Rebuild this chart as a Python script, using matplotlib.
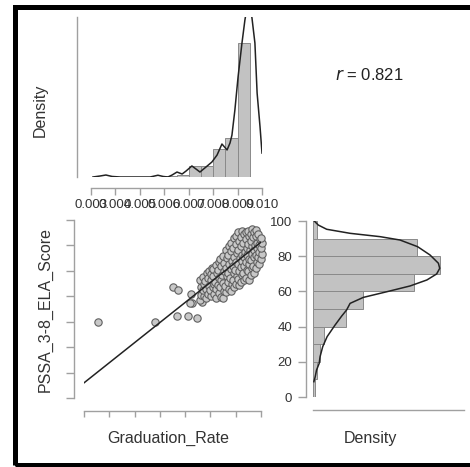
import matplotlib
matplotlib.use("Agg")
import matplotlib.pyplot as plt
from matplotlib.patches import Rectangle

plt.rcParams["font.family"] = ["Liberation Sans", "DejaVu Sans"]

W, H = 470, 467

# top panel: Graduation_Rate histogram + density
top_ticks = [0.003, 0.004, 0.005, 0.006, 0.007, 0.008, 0.009, 0.010]
top_tick_labels = ["0.003", "0.004", "0.005", "0.006", "0.007", "0.008", "0.009", "0.010"]
grad_bin_left = [0.0060, 0.0065, 0.0070, 0.0075, 0.0080, 0.0085, 0.0090]
grad_bin_density = [10, 20, 100, 100, 255, 355, 1215]
grad_bin_width = 0.0005
grad_kde_x = [0.00308, 0.00337, 0.00361, 0.00386, 0.00419, 0.00542, 0.00574, 0.00595,
              0.00615, 0.00632, 0.00652, 0.00673, 0.00689, 0.00713, 0.00730, 0.00746,
              0.00771, 0.00795, 0.00816, 0.00836, 0.00857, 0.00869, 0.00877, 0.00889,
              0.00902, 0.00918, 0.00930, 0.00945, 0.00959, 0.00971, 0.00980, 0.00992,
              0.01000]
grad_kde_y = [0, 9, 18, 5, 0, 0, 16, 5,
              0, 18, 45, 27, 54, 100, 72, 45,
              91, 136, 199, 299, 245, 308, 380, 607,
              906, 1214, 1422, 1620, 1440, 1214, 761, 453,
              217]

# scatter: Graduation_Rate vs PSSA_3-8_ELA_Score
grad_rate = [35.5, 58.1, 65.2, 67.2, 66.8, 71.1, 74.7, 72.3, 72.7, 71.9, 76.6, 76.6, 77.0,
             75.8, 76.4, 76.1, 75.9, 77.3, 76.9, 77.4, 77.1, 78.2, 78.4, 77.8, 78.6,
             79.1, 79.4, 78.9, 79.5, 80.2, 79.8, 80.4, 80.1, 80.6,
             81.3, 80.9, 81.5, 81.2, 81.0, 82.1, 82.4, 81.8, 82.5, 82.2,
             83.2, 82.9, 83.4, 83.1, 83.5, 84.3, 83.8, 84.1, 84.6, 84.2, 83.9,
             85.0, 85.4, 84.8, 85.2, 85.5, 85.1, 86.2, 85.9, 86.4, 86.1, 86.5, 86.0,
             87.3, 86.8, 87.1, 87.5, 86.9, 87.2, 88.1, 88.4, 87.9, 88.2, 88.6, 88.0, 88.3,
             89.2, 88.9, 89.4, 89.1, 89.5, 88.8, 89.3, 90.1, 90.4, 89.9, 90.3, 90.6, 90.0, 90.2,
             91.2, 90.9, 91.4, 91.1, 91.5, 90.8, 91.3, 91.0,
             92.1, 92.4, 91.9, 92.3, 92.6, 92.0, 92.2, 92.5,
             93.2, 92.9, 93.4, 93.1, 93.5, 92.8, 93.3, 94.1, 94.4, 93.9, 94.3, 94.6, 94.0, 94.2,
             95.2, 94.9, 95.4, 95.1, 95.5, 94.8, 95.3, 95.0,
             96.1, 96.4, 95.9, 96.3, 96.6, 96.0, 96.2, 96.5,
             97.2, 96.9, 97.4, 97.1, 97.5, 96.8, 97.3, 98.1, 98.4, 97.9, 98.3, 98.6, 98.0, 98.2,
             99.2, 98.9, 99.4, 99.1, 99.5, 98.8, 100.1, 100.4, 99.9, 100.3, 100.0]
ela_score = [42.6, 42.6, 62.5, 60.8, 46.0, 46.0, 44.9, 58.5, 53.4, 53.4, 54.0, 65.3, 59.7,
             55.2, 58.1, 62.3, 66.4, 57.4, 60.6, 64.1, 68.2, 56.3, 61.2, 65.5, 70.1,
             58.6, 62.8, 67.3, 71.2, 57.1, 60.4, 66.2, 69.4, 73.0,
             58.2, 62.5, 64.3, 68.6, 72.4, 56.4, 61.3, 65.2, 70.3, 74.8,
             59.1, 63.4, 67.2, 72.1, 76.3, 57.0, 62.2, 66.5, 69.3, 74.4, 78.1,
             56.2, 60.3, 64.4, 71.2, 76.1, 80.0, 59.4, 63.1, 68.3, 73.2, 78.4, 83.1,
             61.2, 65.3, 70.4, 75.2, 80.1, 85.3, 60.3, 64.1, 67.4, 72.3, 77.2, 82.4, 87.1,
             62.3, 66.2, 70.1, 74.4, 79.3, 84.2, 90.1, 64.2, 68.3, 72.1, 76.4, 81.2, 86.3, 91.0,
             63.4, 67.1, 71.3, 75.2, 78.4, 83.3, 88.2, 93.1,
             65.3, 69.2, 73.4, 77.1, 80.3, 85.2, 90.4, 94.0,
             66.1, 70.4, 74.2, 79.1, 82.2, 87.3, 92.1, 67.3, 72.1, 76.2, 80.4, 84.1, 89.2, 93.3,
             66.2, 71.3, 75.1, 78.3, 83.2, 86.4, 91.2, 94.1,
             69.2, 73.1, 77.4, 81.1, 85.2, 88.3, 92.4, 95.0,
             70.3, 74.2, 79.1, 83.3, 86.1, 90.2, 93.4, 73.1, 76.3, 80.2, 84.1, 87.3, 91.1, 94.2,
             75.2, 79.1, 82.3, 86.2, 89.1, 92.3, 78.2, 81.1, 84.3, 87.2, 90.1]
fit_intercept = -25.36
fit_slope = 1.129
r_value = 0.821

# right panel: PSSA_3-8_ELA_Score histogram + density
ela_bin_bottom = [0, 10, 20, 30, 40, 50, 60, 70, 80, 90]
ela_bin_density = [0.0004, 0.0009, 0.0016, 0.0025, 0.0075, 0.0113, 0.0229, 0.0288, 0.0236, 0.0009]
ela_kde_score = [100.2, 97.7, 95.3, 93.0, 91.1, 89.2, 85.4, 80.7, 76.0, 73.1, 69.9, 66.5,
                 63.1, 59.8, 56.6, 53.2, 49.4, 46.0, 40.9, 34.3, 28.6, 22.9, 19.1, 15.3,
                 11.5, 8.7]
ela_kde_density = [0.0002, 0.0012, 0.0031, 0.0084, 0.0152, 0.0197, 0.0237, 0.0265, 0.0284,
                   0.0287, 0.0280, 0.0258, 0.0220, 0.0167, 0.0114, 0.0084, 0.0076, 0.0065,
                   0.0050, 0.0032, 0.0022, 0.0016, 0.0014, 0.0008, 0.0005, 0.0002]
ela_ticks = [0, 20, 40, 60, 80, 100]

bar_face = "#c2c2c2"
bar_edge = "#8a8a8a"
axis_col = "#a0a0a0"
text_col = "#333333"
curve_col = "#222222"


def px_axes(fig, x0, y0, x1, y1):
    # pixel box (top-left origin) -> figure axes
    return fig.add_axes([x0 / W, (H - y1) / H, (x1 - x0) / W, (y1 - y0) / H])


def style(ax):
    for s in ["top", "right"]:
        ax.spines[s].set_visible(False)
    for s in ["left", "bottom"]:
        ax.spines[s].set_color(axis_col)
        ax.spines[s].set_linewidth(1.0)
    ax.tick_params(colors=axis_col, labelcolor=text_col, width=1.0, labelsize=9.5)
    ax.patch.set_alpha(0)


fig = plt.figure(figsize=(W / 100, H / 100), dpi=100)

# --- top histogram
ax_top = px_axes(fig, 91, 17, 262, 177)
style(ax_top)
ax_top.bar(grad_bin_left, grad_bin_density, width=grad_bin_width, align="edge",
           color=bar_face, edgecolor=bar_edge, linewidth=0.7)
ax_top.plot(grad_kde_x, grad_kde_y, color=curve_col, lw=1.1)
ax_top.set_xlim(0.003, 0.010)
ax_top.set_ylim(0, 1450)
ax_top.spines["left"].set_position(("outward", 10))
ax_top.spines["bottom"].set_position(("outward", 8))
ax_top.spines["bottom"].set_bounds(0.003, 0.010)
ax_top.set_yticks([])
ax_top.set_xticks(top_ticks)
ax_top.set_xticklabels(top_tick_labels)
ax_top.tick_params(axis="x", length=5, pad=2.5)

# --- scatter
ax_sc = px_axes(fig, 84, 220, 261, 398)
style(ax_sc)
ax_sc.scatter(grad_rate, ela_score, s=28, facecolor="#c8c8c8", edgecolor="#606060",
              linewidth=0.8, clip_on=False, zorder=3)
fit_x = [30, 100]
ax_sc.plot(fit_x, [fit_intercept + fit_slope * v for v in fit_x], color=curve_col,
           lw=1.1, zorder=4)
ax_sc.set_xlim(30, 100)
ax_sc.set_ylim(0, 100)
ax_sc.spines["left"].set_position(("outward", 7))
ax_sc.spines["bottom"].set_position(("outward", 9))
ax_sc.spines["left"].set_bounds(0, 100)
ax_sc.spines["bottom"].set_bounds(30, 100)
ax_sc.set_xticks([30 + 10 * i for i in range(8)])
ax_sc.set_yticks([100 * i / 7 for i in range(8)])
ax_sc.set_xticklabels([])
ax_sc.set_yticklabels([])
ax_sc.tick_params(axis="x", length=4.5)
ax_sc.tick_params(axis="y", length=6)

# --- right histogram (horizontal)
ax_r = px_axes(fig, 313, 221, 464, 397)
style(ax_r)
ax_r.barh(ela_bin_bottom, ela_bin_density, height=10, align="edge",
          color=bar_face, edgecolor=bar_edge, linewidth=0.7)
ax_r.plot(ela_kde_density, ela_kde_score, color=curve_col, lw=1.1)
ax_r.set_ylim(0, 100)
ax_r.set_xlim(0, 0.0342)
ax_r.spines["left"].set_position(("outward", 5))
ax_r.spines["bottom"].set_position(("outward", 9))
ax_r.set_xticks([])
ax_r.set_yticks(ela_ticks)
ax_r.tick_params(axis="y", length=6, pad=4)

# axis titles
fig.text(40 / W, 1 - 110 / H, "Density", rotation=90, ha="center", va="center",
         fontsize=11.5, color=text_col)
fig.text(45 / W, 1 - 310 / H, "PSSA_3-8_ELA_Score", rotation=90, ha="center",
         va="center", fontsize=11.5, color=text_col)
fig.text(168 / W, 1 - 438 / H, "Graduation_Rate", ha="center", va="center",
         fontsize=11.5, color=text_col)
fig.text(370 / W, 1 - 438 / H, "Density", ha="center", va="center",
         fontsize=11.5, color=text_col)
fig.text(369 / W, 1 - 75 / H, "$r$ = %.3f" % r_value, ha="center", va="center",
         fontsize=12, color="#222222")

# outer frame
fig.patches.append(Rectangle((14.5 / W, 2 / H), 470 / W, (465 - 6.5) / H,
                             transform=fig.transFigure, fill=False,
                             edgecolor="black", linewidth=3.6, clip_on=False))

fig.savefig("out.png", dpi=100)
